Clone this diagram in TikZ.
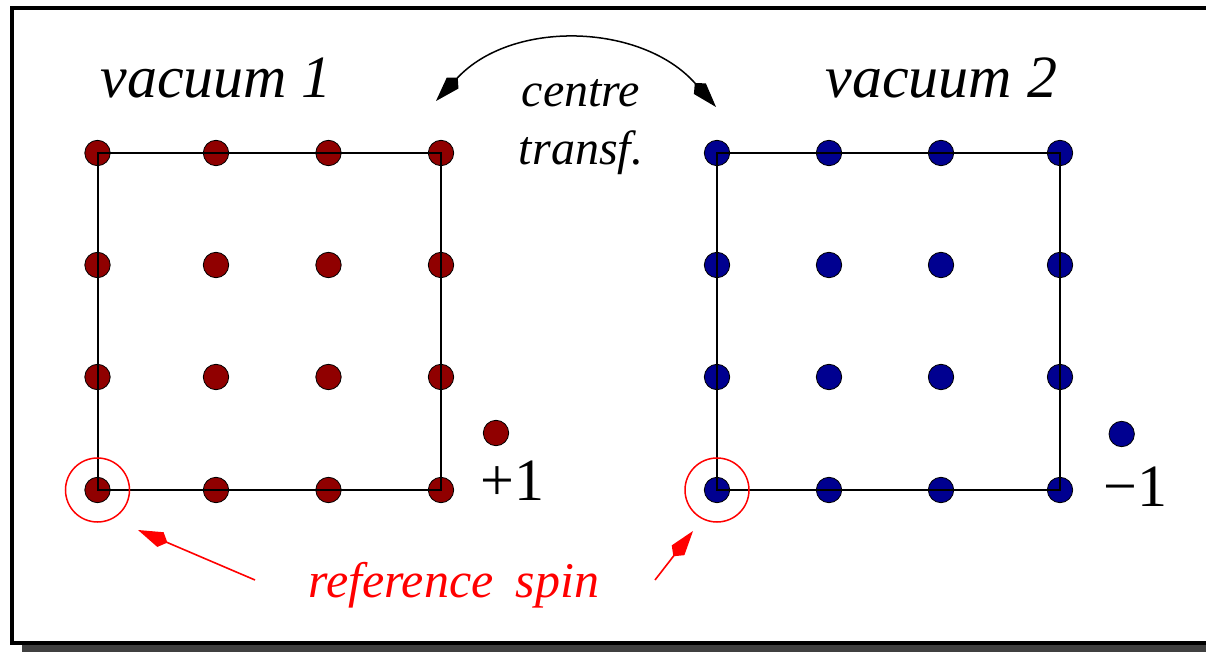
\documentclass[tikz,border=0pt]{standalone}
\usepackage{fontspec}
\setmainfont{Liberation Serif}
\usetikzlibrary{arrows.meta}
\definecolor{spinred}{RGB}{144,0,0}
\definecolor{spinblue}{RGB}{0,0,144}
\definecolor{shadowgray}{RGB}{64,64,64}

\begin{document}
\begin{tikzpicture}[x=0.5pt,y=-0.5pt,>={Kite[length=16pt,width=8pt,inset=3.8pt]},
  spin/.style={circle,draw=black,line width=0.4pt,inner sep=0pt,minimum size=12.7pt},
  up/.style={spin,fill=spinred},
  down/.style={spin,fill=spinblue},
  ring/.style={circle,draw=red,line width=0.75pt,inner sep=0pt,minimum size=32pt},
  title/.style={font=\fontsize{30}{36}\selectfont\itshape,anchor=base west,inner sep=0pt},
  value/.style={font=\fontsize{30}{36}\selectfont,anchor=base west,inner sep=0pt}]
        \useasboundingbox (0,0) rectangle (1206,652);
        \clip (0,0) rectangle (1206,652);
        % frame with its shadow
        \fill[shadowgray] (22,20) rectangle (1260,660);
        \draw[line width=2.2pt,fill=white] (12.2,7.8) rectangle (1250,642.8);
        % the two lattices
        \foreach \c/\x in {1/97.5,2/216,3/328.5,4/441}
            \foreach \r/\y in {1/153,2/265,3/377,4/490}
                \node[up] (a\r\c) at (\x,\y) {};
        \foreach \c/\x in {1/717,2/829,3/941,4/1060}
            \foreach \r/\y in {1/153,2/265,3/377,4/490}
                \node[down] (b\r\c) at (\x,\y) {};
        \draw[line width=1pt] (a11.center) rectangle (a44.center);
        \draw[line width=1pt] (b11.center) rectangle (b44.center);
        \node[ring] (refa) at (a41) {};
        \node[ring] (refb) at (b41) {};
        % titles
        \node[title] (vaca) at (100,98) {vacuum 1};
        \node[title] (vacb) at (825,98) {vacuum 2};
        \node[font=\fontsize{24}{29}\selectfont\itshape,align=center,anchor=base,inner sep=0pt] (centre) at (581,165) {centre\\transf.};
        \coordinate (fromv1) at (436,101);
        \coordinate (tov2) at (716,107);
        \draw[line width=0.75pt,<->] (fromv1) .. controls (512,19) and (642,23) .. (tov2);
        % values of the spins
        \node[up] (upkey) at (496,433) {};
        \node[value] (upval) at (480,501) {+1};
        \node[down] (downkey) at (1121.7,434) {};
        \node[value] (downval) at (1103,507) {−1};
        % reference spin
        \node[font=\fontsize{25}{30}\selectfont\itshape,text=red,anchor=base west,inner sep=0pt] (spin) at (308,597) {reference\hspace{0.45em}spin};
        \coordinate (taila) at (255,580);
        \coordinate (tipa) at (138,530);
        \coordinate (tailb) at (655,580);
        \coordinate (tipb) at (693,531);
        \draw[red,line width=0.8pt,->] (taila) -- (tipa);
        \draw[red,line width=0.8pt,->] (tailb) -- (tipb);
    \end{tikzpicture}
\end{document}
